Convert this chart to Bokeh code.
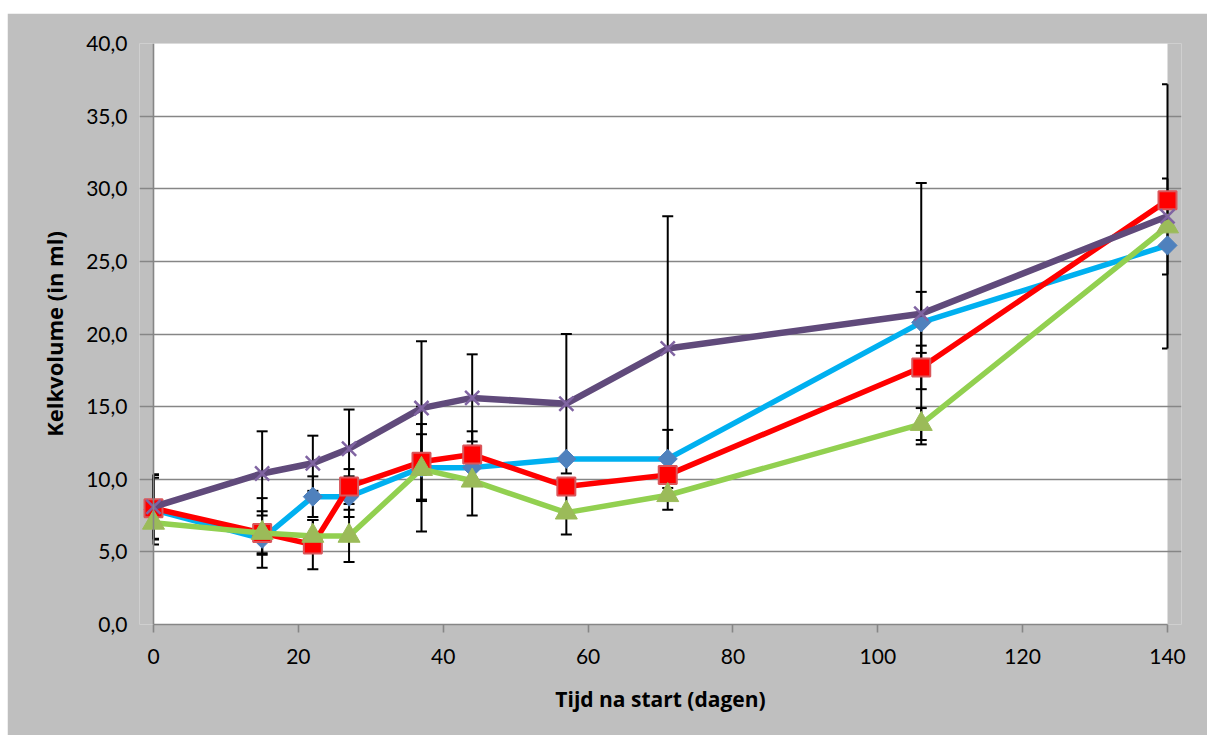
import numpy as np
from bokeh.plotting import figure
from bokeh.models import Range1d, Span, FixedTicker, CustomJSTickFormatter
from bokeh.embed import file_html
from bokeh.resources import INLINE

# Days since start
days = [0, 15, 22, 27, 37, 44, 57, 71, 106, 140]

# Mean calyx volume (ml) per group
blue_vals = [7.9, 5.9, 8.8, 8.8, 10.8, 10.8, 11.4, 11.4, 20.8, 26.1]
red_vals = [8.0, 6.3, 5.5, 9.5, 11.2, 11.7, 9.5, 10.3, 17.7, 29.2]
green_vals = [7.0, 6.3, 6.1, 6.1, 10.7, 9.9, 7.7, 8.9, 13.8, 27.4]
purple_vals = [8.1, 10.4, 11.1, 12.1, 14.9, 15.6, 15.2, 19.0, 21.4, 28.1]

# Standard deviations (None = no error bar)
blue_err = [2.4, 1.0, 1.4, 1.4, 2.3, None, None, 2.0, 2.1, None]
red_err = [2.1, 1.5, 1.7, 1.2, 2.6, 1.6, None, None, 1.5, None]
green_err = [None, 2.4, 1.1, 1.8, 4.3, 2.4, 1.5, 1.0, 1.1, 3.3]
purple_err = [2.25, 2.9, 1.9, 2.7, 4.6, 3.0, 4.8, 9.1, 9.0, 9.1]

x_ticks = [0, 20, 40, 60, 80, 100, 120, 140]
y_ticks = [0, 5, 10, 15, 20, 25, 30, 35, 40]

X_MIN, X_MAX = 0, 140
Y_MIN, Y_MAX = 0, 40

GRAY_BG = "#BFBFBF"
AXIS_GRAY = "#868686"
FONT = "Lato"
TITLE_FONT = "Open Sans"

plot_w = 1014           # pixel width of the 0..140 data area
pad_px = 14             # room so edge markers are not cut off
px_per_unit = plot_w / (X_MAX - X_MIN)
pad = pad_px / px_per_unit

p = figure(
    frame_width=plot_w + 2 * pad_px,
    frame_height=581,
    min_border_left=132,
    min_border_right=26,
    min_border_top=30,
    min_border_bottom=111,
    x_range=Range1d(X_MIN - pad, X_MAX + pad),
    y_range=Range1d(Y_MIN, Y_MAX),
    output_backend="svg",
    toolbar_location=None,
    background_fill_color=GRAY_BG,
    border_fill_color=GRAY_BG,
    outline_line_color=None,
    margin=(13, 5, 5, 7),
)

# White plotting area
p.quad(left=[X_MIN], right=[X_MAX], bottom=[Y_MIN], top=[Y_MAX],
       fill_color="white", line_color=None, level="image")

# Horizontal grid (extends left to form the tick marks)
p.xgrid.visible = False
p.ygrid.ticker = FixedTicker(ticks=y_ticks)
p.ygrid.grid_line_color = AXIS_GRAY
p.ygrid.grid_line_width = 1.6
p.ygrid.bounds = (X_MIN - 9 / px_per_unit, X_MAX)

# Vertical axis line at x = 0
p.add_layout(Span(location=0, dimension="height", line_color=AXIS_GRAY, line_width=1.6))

# Y axis: labels only
yax = p.yaxis[0]
yax.ticker = FixedTicker(ticks=y_ticks, minor_ticks=[])
yax.formatter = CustomJSTickFormatter(code="return tick.toFixed(1).replace('.', ',');")
yax.axis_line_color = None
yax.major_tick_line_color = None
yax.minor_tick_line_color = None
yax.major_tick_in = 0
yax.major_tick_out = 0
yax.major_label_standoff = 12
yax.major_label_text_font = FONT
yax.major_label_text_font_size = "21px"
yax.major_label_text_color = "black"
yax.axis_label = "Kelkvolume (in ml)"
yax.axis_label_text_font = TITLE_FONT
yax.axis_label_text_font_style = "bold"
yax.axis_label_text_font_size = "22px"
yax.axis_label_text_color = "black"
yax.axis_label_standoff = 14

# X axis
xax = p.xaxis[0]
xax.ticker = FixedTicker(ticks=x_ticks, minor_ticks=[])
xax.bounds = (X_MIN, X_MAX)
xax.axis_line_color = AXIS_GRAY
xax.axis_line_width = 1.6
xax.major_tick_line_color = AXIS_GRAY
xax.major_tick_line_width = 1.6
xax.major_tick_in = 0
xax.major_tick_out = 8
xax.minor_tick_line_color = None
xax.major_label_standoff = 16
xax.major_label_text_font = FONT
xax.major_label_text_font_size = "21px"
xax.major_label_text_color = "black"
xax.axis_label = "Tijd na start (dagen)"
xax.axis_label_text_font = TITLE_FONT
xax.axis_label_text_font_style = "bold"
xax.axis_label_text_font_size = "21px"
xax.axis_label_text_color = "black"
xax.axis_label_standoff = 18

# Error bars (drawn underneath the series)
cap_half = 5.5 / px_per_unit
for vals, errs in [(blue_vals, blue_err), (red_vals, red_err),
                   (green_vals, green_err), (purple_vals, purple_err)]:
    xs = np.array([d for d, e in zip(days, errs) if e is not None], dtype=float)
    ys = np.array([v for v, e in zip(vals, errs) if e is not None], dtype=float)
    es = np.array([e for e in errs if e is not None], dtype=float)
    lo, hi = ys - es, ys + es
    p.segment(x0=xs, y0=lo, x1=xs, y1=hi, line_color="black", line_width=2)
    cx0 = np.clip(xs - cap_half, X_MIN, X_MAX)
    cx1 = np.clip(xs + cap_half, X_MIN, X_MAX)
    p.segment(x0=cx0, y0=hi, x1=cx1, y1=hi, line_color="black", line_width=2)
    p.segment(x0=cx0, y0=lo, x1=cx1, y1=lo, line_color="black", line_width=2)

# Series: line then markers
p.line(days, blue_vals, line_color="#00B0F0", line_width=5.5, line_join="round")
p.scatter(days, blue_vals, marker="square", angle=np.pi / 4, size=13.5,
          fill_color="#4F81BD", line_color="#4F81BD", line_width=1)

p.line(days, red_vals, line_color="#FF0000", line_width=5.5, line_join="round")
p.scatter(days, red_vals, marker="square", size=18,
          fill_color="#FF0000", line_color="#D9575B", line_width=2)

p.line(days, green_vals, line_color="#92D050", line_width=5.5, line_join="round")
p.scatter(days, green_vals, marker="triangle", size=22,
          fill_color="#9BBB59", line_color="#9BBB59", line_width=1)

p.line(days, purple_vals, line_color="#604A7B", line_width=6.5, line_join="round")
p.scatter(days, purple_vals, marker="x", size=20,
          line_color="#8064A2", line_width=2.5)

open("out.html", "w").write(file_html(p, INLINE, title="Kelkvolume"))
